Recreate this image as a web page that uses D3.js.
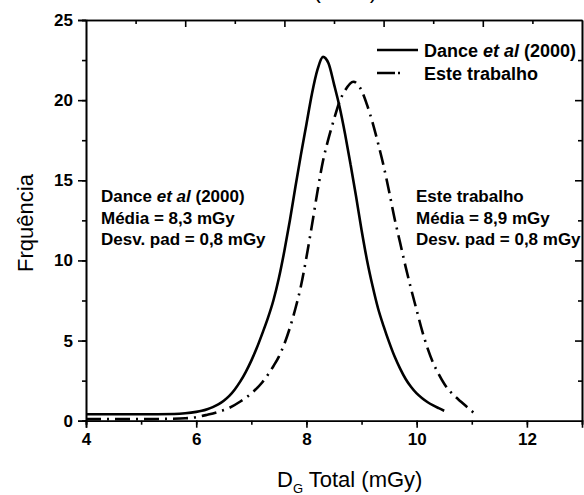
<!DOCTYPE html>
<html>
<head>
<meta charset="utf-8">
<script src="https://cdn.jsdelivr.net/npm/d3@7"></script>
<style>
  body { margin: 0; background: #fff; }
  svg { display: block; font-family: "Liberation Sans", Arial, sans-serif; }
</style>
</head>
<body>
<svg width="584" height="495"></svg>
<script>
// values
var danceX = [4, 5, 5.6, 5.8, 6, 6.1, 6.2, 6.3, 6.4, 6.5, 6.6, 6.7, 6.8, 6.9, 7, 7.1, 7.2, 7.3, 7.4, 7.5, 7.6, 7.7, 7.8, 7.9, 8, 8.1, 8.2, 8.3, 8.4, 8.5, 8.6, 8.7, 8.8, 8.9, 9, 9.1, 9.2, 9.3, 9.4, 9.5, 9.6, 9.7, 9.8, 9.9, 10, 10.1, 10.2, 10.3, 10.4, 10.5];
var danceY = [0.4, 0.4, 0.42, 0.46, 0.55, 0.62, 0.72, 0.85, 1.02, 1.25, 1.55, 1.95, 2.45, 3.05, 3.75, 4.55, 5.45, 6.4, 7.5, 8.9, 10.6, 12.5, 14.6, 16.6, 18.5, 20.4, 21.9, 22.7, 22.3, 21.0, 19.6, 17.9, 16.0, 14.0, 11.9, 10.0, 8.4, 7.0, 5.9, 4.9, 4.0, 3.25, 2.6, 2.1, 1.7, 1.4, 1.15, 0.95, 0.78, 0.62];

var esteX = [4, 5, 5.5, 5.8, 6, 6.2, 6.4, 6.6, 6.8, 7, 7.2, 7.4, 7.5, 7.6, 7.7, 7.8, 7.9, 8, 8.1, 8.2, 8.3, 8.4, 8.5, 8.6, 8.7, 8.85, 9, 9.1, 9.2, 9.3, 9.4, 9.5, 9.6, 9.7, 9.8, 9.9, 10, 10.1, 10.2, 10.3, 10.4, 10.5, 10.6, 10.7, 10.8, 10.9, 11, 11.1];
var esteY = [0.1, 0.1, 0.12, 0.15, 0.22, 0.37, 0.55, 0.8, 1.2, 1.7, 2.4, 3.4, 4.0, 4.8, 5.8, 7.0, 8.4, 10.2, 12.2, 14.3, 16.2, 17.6, 18.8, 19.9, 20.6, 21.15, 20.6, 19.7, 18.6, 17.3, 15.9, 14.3, 12.6, 11.1, 9.6, 8.2, 6.9, 5.6, 4.5, 3.6, 2.9, 2.3, 1.85, 1.5, 1.2, 0.9, 0.6, 0.3];

var xTicks = [4, 6, 8, 10, 12];
var yTicks = [0, 5, 10, 15, 20, 25];

var mLeft = 86, mRight = 582, mTop = 20, mBottom = 420.7;

var svg = d3.select("svg");

var x = d3.scaleLinear().domain([4, 13]).range([mLeft, mRight]);
var y = d3.scaleLinear().domain([0, 25]).range([mBottom, mTop]);
// the top axis in the picture is spaced differently (10 intervals)
var xTop = d3.scaleLinear().domain([0, 10]).range([mLeft, mRight]);

function styleAxis(g) {
  g.select(".domain").attr("stroke-width", 1.6);
  g.selectAll(".tick line").attr("stroke-width", 1.6);
  g.selectAll("text").attr("font-weight", "bold").attr("font-size", "17px").attr("fill", "#000");
}

// minor ticks first, then majors with labels
svg.append("g")
  .attr("transform", "translate(0," + mBottom + ")")
  .call(d3.axisBottom(x).tickValues(d3.range(4, 14, 1)).tickSize(4).tickFormat(""))
  .call(styleAxis);
svg.append("g")
  .attr("transform", "translate(0," + mBottom + ")")
  .call(d3.axisBottom(x).tickValues(xTicks).tickSize(7).tickPadding(5).tickFormat(d3.format("d")))
  .call(styleAxis);

svg.append("g")
  .attr("transform", "translate(" + mLeft + ",0)")
  .call(d3.axisLeft(y).tickValues(d3.range(0, 26, 2.5)).tickSize(4).tickFormat(""))
  .call(styleAxis);
svg.append("g")
  .attr("transform", "translate(" + mLeft + ",0)")
  .call(d3.axisLeft(y).tickValues(yTicks).tickSize(8).tickPadding(5).tickFormat(d3.format("d")))
  .call(styleAxis);

// mirrored axes, ticks inward
svg.append("g")
  .attr("transform", "translate(0," + mTop + ")")
  .call(d3.axisBottom(xTop).tickValues(d3.range(1, 10, 2)).tickSize(4).tickSizeOuter(0).tickFormat(""))
  .call(styleAxis);
svg.append("g")
  .attr("transform", "translate(0," + mTop + ")")
  .call(d3.axisBottom(xTop).tickValues(d3.range(2, 10, 2)).tickSize(7).tickSizeOuter(0).tickFormat(""))
  .call(styleAxis);
svg.append("g")
  .attr("transform", "translate(" + mRight + ",0)")
  .call(d3.axisLeft(y).tickValues(d3.range(2.5, 25, 5)).tickSize(4).tickSizeOuter(0).tickFormat(""))
  .call(styleAxis);
svg.append("g")
  .attr("transform", "translate(" + mRight + ",0)")
  .call(d3.axisLeft(y).tickValues(d3.range(5, 25, 5)).tickSize(7).tickSizeOuter(0).tickFormat(""))
  .call(styleAxis);

var line = d3.line()
  .x(function(d) { return x(d[0]); })
  .y(function(d) { return y(d[1]); })
  .curve(d3.curveMonotoneX);

svg.append("path")
  .datum(d3.zip(danceX, danceY))
  .attr("fill", "none")
  .attr("stroke", "#000")
  .attr("stroke-width", 2.6)
  .attr("d", line);

svg.append("path")
  .datum(d3.zip(esteX, esteY))
  .attr("fill", "none")
  .attr("stroke", "#000")
  .attr("stroke-width", 2.6)
  .attr("stroke-dasharray", "15,6,2,6")
  .attr("d", line);

// legend
svg.append("line").attr("x1", 377).attr("x2", 418).attr("y1", 50).attr("y2", 50)
  .attr("stroke", "#000").attr("stroke-width", 2.6);
svg.append("line").attr("x1", 377).attr("x2", 400).attr("y1", 73).attr("y2", 73)
  .attr("stroke", "#000").attr("stroke-width", 2.6).attr("stroke-dasharray", "18,3,2,30");

var leg1 = svg.append("text").attr("x", 424).attr("y", 57).attr("font-size", "18px").attr("font-weight", "bold");
leg1.append("tspan").text("Dance ");
leg1.append("tspan").attr("font-style", "italic").text("et al");
leg1.append("tspan").text(" (2000)");
svg.append("text").attr("x", 424).attr("y", 80).attr("font-size", "18px").attr("font-weight", "bold").text("Este trabalho");

// annotations
function block(x0, lines, first) {
  lines.forEach(function(t, i) {
    var tx = svg.append("text").attr("x", x0).attr("y", 202 + i * 21.5)
      .attr("font-size", "17px").attr("font-weight", "bold");
    if (i == 0 && first) {
      tx.append("tspan").text("Dance ");
      tx.append("tspan").attr("font-style", "italic").text("et al");
      tx.append("tspan").text(" (2000)");
    } else tx.text(t);
  });
}
block(101, ["", "Média = 8,3 mGy", "Desv. pad = 0,8 mGy"], true);
block(416, ["Este trabalho", "Média = 8,9 mGy", "Desv. pad = 0,8 mGy"], false);

// axis titles
svg.append("text")
  .attr("transform", "translate(33,223) rotate(-90)")
  .attr("text-anchor", "middle")
  .attr("font-size", "22px")
  .text("Frquência");

var xl = svg.append("text").attr("x", 277).attr("y", 487).attr("font-size", "22px");
xl.append("tspan").text("D");
xl.append("tspan").attr("font-size", "13px").attr("dy", 6).text("G");
xl.append("tspan").attr("dy", -6).text(" Total (mGy)");

// clipped title at the very top
svg.append("text").attr("x", 377).attr("y", -2).attr("text-anchor", "end")
  .attr("font-size", "22px").text("Dance et al (2000)");
</script>
</body>
</html>
